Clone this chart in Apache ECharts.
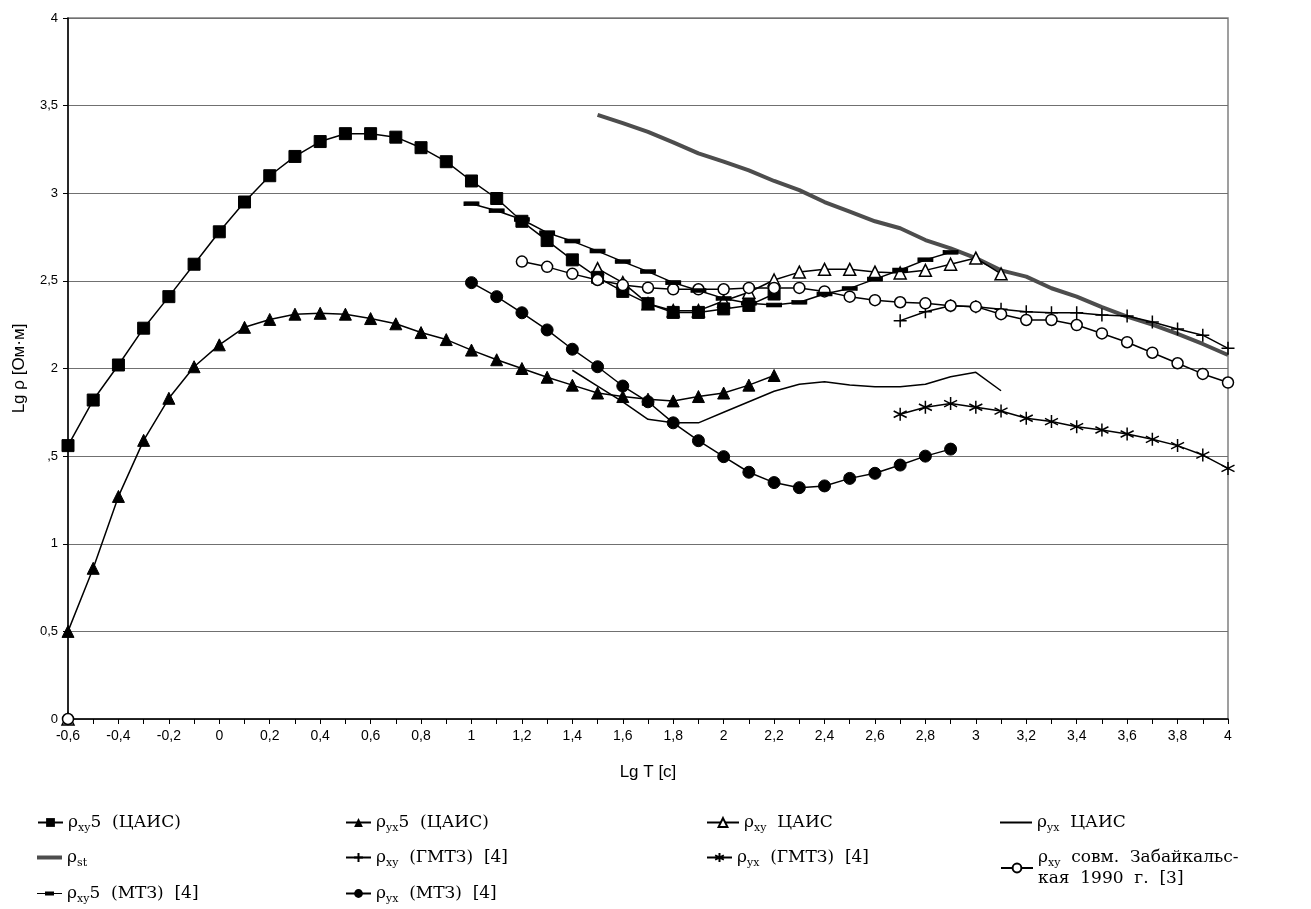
<!DOCTYPE html>
<html>
<head>
<meta charset="utf-8">
<script src="https://cdn.jsdelivr.net/npm/echarts@6/dist/echarts.min.js"></script>
<style>
html,body{margin:0;padding:0;background:#fff;}
#c{width:1311px;height:909px;}
</style>
</head>
<body>
<div id="c"></div>
<script>
// ---------- data (lg T, lg rho) ----------
const T_xy5CAIS = [-0.6,-0.5,-0.4,-0.3,-0.2,-0.1,0,0.1,0.2,0.3,0.4,0.5,0.6,0.7,0.8,0.9,1.0,1.1,1.2,1.3,1.4,1.5,1.6,1.7,1.8,1.9,2.0,2.1,2.2];
const V_xy5CAIS = [1.56,1.82,2.02,2.23,2.41,2.595,2.78,2.95,3.10,3.21,3.295,3.34,3.34,3.32,3.26,3.18,3.07,2.97,2.84,2.73,2.62,2.52,2.44,2.37,2.32,2.32,2.34,2.36,2.425];

const T_yx5CAIS = [-0.6,-0.5,-0.4,-0.3,-0.2,-0.1,0,0.1,0.2,0.3,0.4,0.5,0.6,0.7,0.8,0.9,1.0,1.1,1.2,1.3,1.4,1.5,1.6,1.7,1.8,1.9,2.0,2.1,2.2];
const V_yx5CAIS = [0.5,0.86,1.27,1.59,1.83,2.01,2.135,2.235,2.28,2.31,2.315,2.31,2.285,2.255,2.205,2.165,2.105,2.05,2.0,1.95,1.905,1.86,1.84,1.825,1.815,1.84,1.86,1.905,1.96];

const T_xyCAIS = [1.5,1.6,1.7,1.8,1.9,2.0,2.1,2.2,2.3,2.4,2.5,2.6,2.7,2.8,2.9,3.0,3.1];
const V_xyCAIS = [2.57,2.49,2.37,2.33,2.33,2.385,2.435,2.505,2.55,2.566,2.566,2.55,2.545,2.56,2.595,2.63,2.54];

const T_yxCAIS = [1.4,1.5,1.6,1.7,1.8,1.9,2.0,2.1,2.2,2.3,2.4,2.5,2.6,2.7,2.8,2.9,3.0,3.1];
const V_yxCAIS = [1.99,1.90,1.81,1.71,1.69,1.69,1.75,1.81,1.87,1.91,1.925,1.906,1.896,1.896,1.91,1.953,1.978,1.873];

const T_st = [1.5,1.6,1.7,1.8,1.9,2.0,2.1,2.2,2.3,2.4,2.5,2.6,2.7,2.8,2.9,3.0,3.1,3.2,3.3,3.4,3.5,3.6,3.7,3.8,3.9,4.0];
const V_st = [3.447,3.40,3.35,3.29,3.228,3.18,3.13,3.07,3.018,2.95,2.895,2.84,2.80,2.733,2.686,2.63,2.56,2.524,2.458,2.41,2.35,2.296,2.25,2.197,2.14,2.077];

const T_xyGMTZ = [2.7,2.8,2.9,3.0,3.1,3.2,3.3,3.4,3.5,3.6,3.7,3.8,3.9,4.0];
const V_xyGMTZ = [2.273,2.324,2.358,2.353,2.338,2.324,2.318,2.318,2.305,2.30,2.265,2.225,2.19,2.115];

const T_yxGMTZ = [2.7,2.8,2.9,3.0,3.1,3.2,3.3,3.4,3.5,3.6,3.7,3.8,3.9,4.0];
const V_yxGMTZ = [1.739,1.779,1.80,1.779,1.757,1.716,1.697,1.668,1.649,1.626,1.596,1.56,1.506,1.43];

const T_xyZab = [1.2,1.3,1.4,1.5,1.6,1.7,1.8,1.9,2.0,2.1,2.2,2.3,2.4,2.5,2.6,2.7,2.8,2.9,3.0,3.1,3.2,3.3,3.4,3.5,3.6,3.7,3.8,3.9,4.0];
const V_xyZab = [2.61,2.58,2.54,2.505,2.476,2.461,2.452,2.452,2.452,2.46,2.46,2.46,2.44,2.41,2.39,2.378,2.372,2.358,2.353,2.31,2.277,2.277,2.248,2.2,2.15,2.09,2.03,1.969,1.92];

const T_xy5MTZ = [1.0,1.1,1.2,1.3,1.4,1.5,1.6,1.7,1.8,1.9,2.0,2.1,2.2,2.3,2.4,2.5,2.6,2.7,2.8,2.9];
const V_xy5MTZ = [2.94,2.90,2.85,2.775,2.727,2.67,2.61,2.553,2.49,2.445,2.40,2.372,2.362,2.378,2.425,2.457,2.51,2.562,2.62,2.663];

const T_yxMTZ = [1.0,1.1,1.2,1.3,1.4,1.5,1.6,1.7,1.8,1.9,2.0,2.1,2.2,2.3,2.4,2.5,2.6,2.7,2.8,2.9];
const V_yxMTZ = [2.49,2.41,2.318,2.22,2.11,2.01,1.90,1.81,1.69,1.588,1.497,1.408,1.349,1.32,1.33,1.373,1.402,1.449,1.50,1.54];

// stray zero points at the origin
const T_origin = [-0.6];
const V_origin = [0];

const yTickLabels = ['0','0,5','1',',5','2','2,5','3','3,5','4'];

// ---------- helpers ----------
function pairs(t, v){ return t.map((x,i)=>[x, v[i]]); }
function withOrigin(t, v){ return pairs(T_origin, V_origin).concat([['-','-']], pairs(t, v)); }

const PLUS = 'path://M0,-6L0,6M-6,0L6,0';
const STAR = 'path://M0,-6L0,6M-5.2,-3L5.2,3M-5.2,3L5.2,-3';
const DASH_ICON = 'path://M0,1.5L25,1.5L25,2.5L0,2.5ZM8,0L17,0L17,4L8,4Z';

const names = [
  'xy5CAIS','yx5CAIS','xyCAIS','yxCAIS',
  'st','xyGMTZ','yxGMTZ','xyZab',
  'xy5MTZ','yxMTZ'
];
const labels = {
  xy5CAIS: '{m|ρ}{s|xy}{m|5  (ЦАИС)}',
  yx5CAIS: '{m|ρ}{s|yx}{m|5  (ЦАИС)}',
  xyCAIS: '{m|ρ}{s|xy}{m|  ЦАИС}',
  yxCAIS: '{m|ρ}{s|yx}{m|  ЦАИС}',
  st: '{m|ρ}{s|st}',
  xyGMTZ: '{m|ρ}{s|xy}{m|  (ГМТЗ)  [4]}',
  yxGMTZ: '{m|ρ}{s|yx}{m|  (ГМТЗ)  [4]}',
  xyZab: '{m|ρ}{s|xy}{m|  совм.  Забайкальс-}\n{m|кая  1990  г.  [3]}',
  xy5MTZ: '{m|ρ}{s|xy}{m|5  (МТЗ)  [4]}',
  yxMTZ: '{m|ρ}{s|yx}{m|  (МТЗ)  [4]}'
};
const legendPos = {
  xy5CAIS:[37,811], yx5CAIS:[345,811], xyCAIS:[706,811], yxCAIS:[1000,811],
  st:[37,846], xyGMTZ:[345,846], yxGMTZ:[706,846], xyZab:[1000,846],
  xy5MTZ:[37,882], yxMTZ:[345,882]
};
const legendIcon = {yxCAIS:{icon:'rect', h:2}, st:{icon:'rect', h:4}, xy5MTZ:{icon:DASH_ICON, h:4}};

const lineBase = {type:'line', smooth:false, connectNulls:false, animation:false,
  lineStyle:{color:'#000', width:1.5}, itemStyle:{color:'#000', borderColor:'#000'}, z:3};

const series = [
  Object.assign({}, lineBase, {name:'xyCAIS', data:withOrigin(T_xyCAIS,V_xyCAIS), symbol:'triangle', symbolSize:12,
    itemStyle:{color:'#fff', borderColor:'#000', borderWidth:1.5}}),
  Object.assign({}, lineBase, {name:'xy5CAIS', data:pairs(T_xy5CAIS,V_xy5CAIS), symbol:'rect', symbolSize:12}),
  Object.assign({}, lineBase, {name:'yx5CAIS', data:pairs(T_yx5CAIS,V_yx5CAIS), symbol:'triangle', symbolSize:12}),
  Object.assign({}, lineBase, {name:'yxCAIS', data:pairs(T_yxCAIS,V_yxCAIS), symbol:'none', showSymbol:false}),
  Object.assign({}, lineBase, {name:'st', data:pairs(T_st,V_st), symbol:'none', showSymbol:false,
    lineStyle:{color:'#4d4d4d', width:4}, itemStyle:{color:'#4d4d4d'}, z:2}),
  Object.assign({}, lineBase, {name:'xyGMTZ', data:pairs(T_xyGMTZ,V_xyGMTZ), symbol:PLUS, symbolSize:13,
    itemStyle:{color:'none', borderColor:'#000', borderWidth:1.5}}),
  Object.assign({}, lineBase, {name:'yxGMTZ', data:pairs(T_yxGMTZ,V_yxGMTZ), symbol:STAR, symbolSize:13,
    itemStyle:{color:'none', borderColor:'#000', borderWidth:1.5}}),
  Object.assign({}, lineBase, {name:'xyZab', data:withOrigin(T_xyZab,V_xyZab), symbol:'circle', symbolSize:11,
    itemStyle:{color:'#fff', borderColor:'#000', borderWidth:1.5}}),
  Object.assign({}, lineBase, {name:'xy5MTZ', data:pairs(T_xy5MTZ,V_xy5MTZ), symbol:'rect', symbolSize:[14,4]}),
  Object.assign({}, lineBase, {name:'yxMTZ', data:pairs(T_yxMTZ,V_yxMTZ), symbol:'circle', symbolSize:12})
];

const rich = {
  m:{fontFamily:'DejaVu Serif', fontSize:17, color:'#000', lineHeight:21},
  s:{fontFamily:'DejaVu Serif', fontSize:11, color:'#000', lineHeight:12, padding:[12,0,0,0]}
};

const legends = names.map(n => {
  const ic = legendIcon[n];
  return {
    data:[ic ? {name:n, icon:ic.icon} : n], left:legendPos[n][0], top:legendPos[n][1], orient:'horizontal',
    itemWidth: (n==='yxCAIS' || n==='xyZab' || n==='xyCAIS') ? 32 : 25, itemHeight: ic ? ic.h : 11, itemGap:5, padding:0, selectedMode:false,
    formatter: name => labels[name],
    textStyle:{rich:rich, padding:[0,0,0,0]}
  };
});

const chart = echarts.init(document.getElementById('c'), null, {renderer:'canvas'});
chart.setOption({
  backgroundColor:'#fff',
  animation:false,
  grid:{left:68, right:83, top:18, bottom:190, show:true, borderColor:'#808080', borderWidth:1.5, backgroundColor:'transparent'},
  xAxis:{
    type:'value', min:-0.6, max:4, interval:0.2,
    name:'Lg T [c]', nameLocation:'middle', nameGap:45,
    nameTextStyle:{fontFamily:'Liberation Sans', fontSize:17, color:'#000'},
    axisLine:{show:true, onZero:false, lineStyle:{color:'#000', width:1.5}},
    axisTick:{show:true, length:5, lineStyle:{color:'#000'}},
    minorTick:{show:true, splitNumber:2, length:5, lineStyle:{color:'#000'}},
    splitLine:{show:false},
    axisLabel:{fontFamily:'Liberation Sans', fontSize:14, color:'#000', margin:10,
      formatter: v => String(Math.round(v*10)/10 + 0).replace('.',',')}
  },
  yAxis:{
    type:'value', min:0, max:4, interval:0.5,
    name:'Lg ρ [Ом·м]', nameLocation:'middle', nameGap:40, nameRotate:90,
    nameTextStyle:{fontFamily:'Liberation Sans', fontSize:17, color:'#000'},
    axisLine:{show:true, onZero:false, lineStyle:{color:'#000', width:1.5}},
    axisTick:{show:true, length:5, lineStyle:{color:'#000'}},
    splitLine:{show:true, lineStyle:{color:'#707070', width:1}},
    axisLabel:{fontFamily:'Liberation Sans', fontSize:13, color:'#000', margin:10,
      formatter: v => yTickLabels[Math.round(v/0.5)]}
  },
  legend: legends,
  series: series
});
</script>
</body>
</html>
